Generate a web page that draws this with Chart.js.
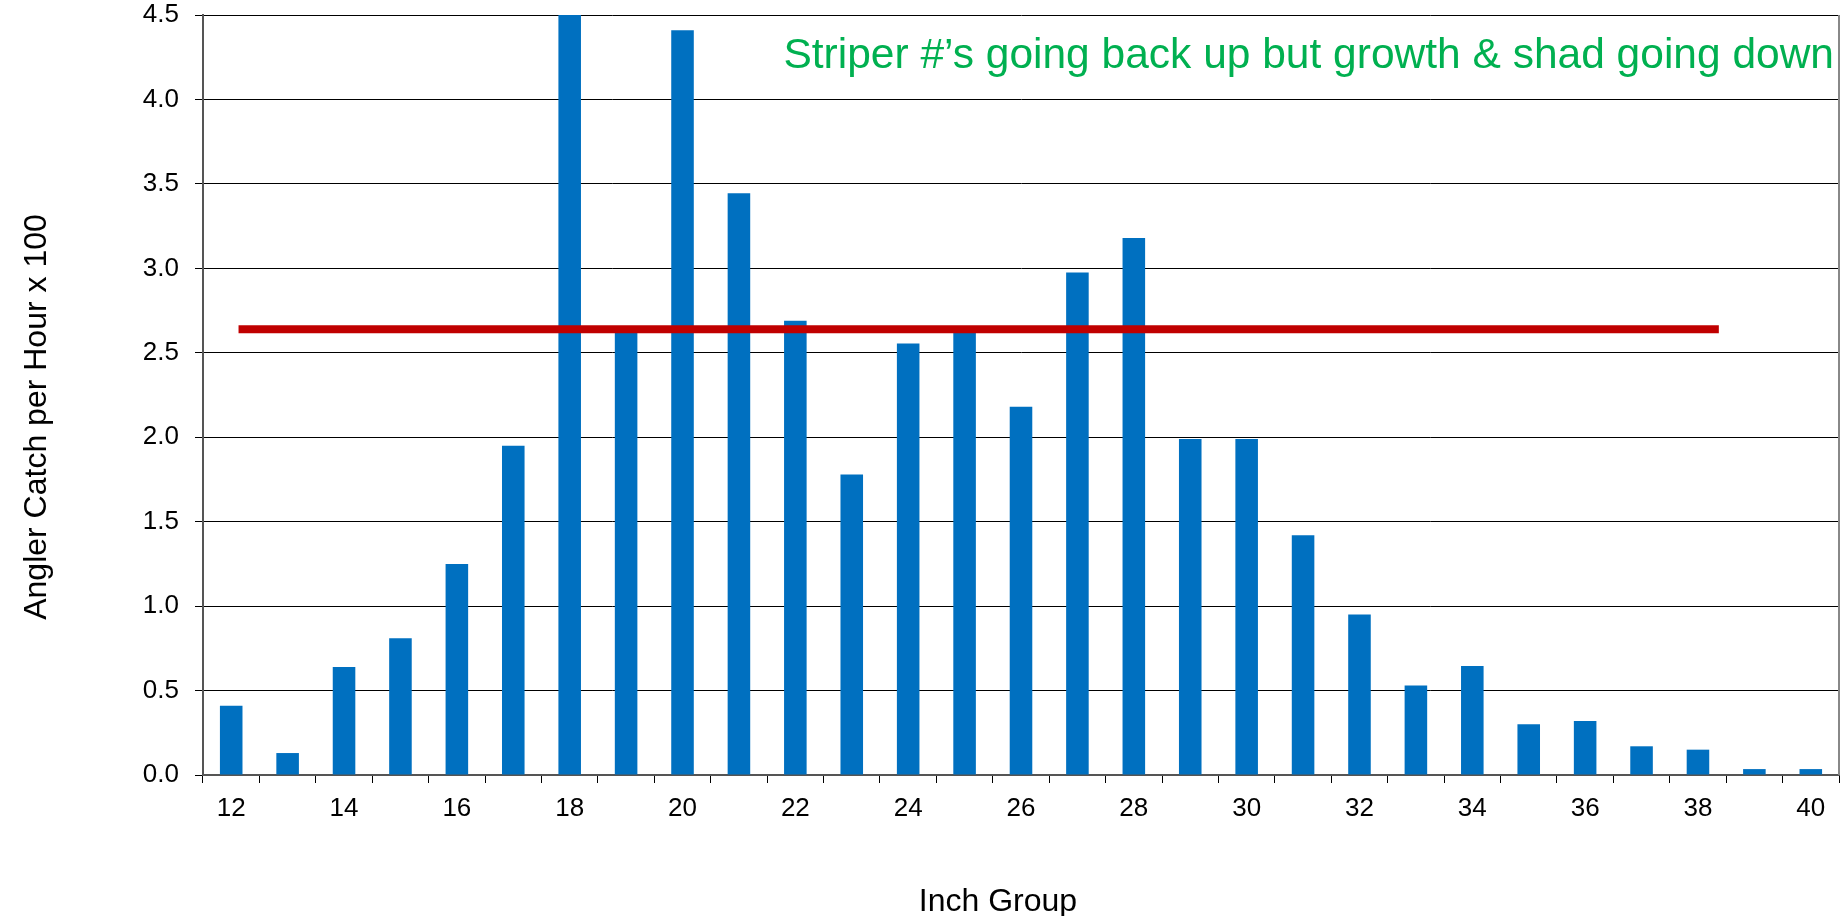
<!DOCTYPE html>
<html>
<head>
<meta charset="utf-8">
<script src="https://cdn.jsdelivr.net/npm/chart.js@4"></script>
<style>
  html, body { margin: 0; padding: 0; background: white; }
  #chart { display: block; }
</style>
</head>
<body>
<canvas id="chart" width="1847" height="916"></canvas>
<script>
// inch groups on the x axis
const inchGroups = ['12', '13', '14', '15', '16', '17', '18', '19', '20', '21',
  '22', '23', '24', '25', '26', '27', '28', '29', '30', '31',
  '32', '33', '34', '35', '36', '37', '38', '39', '40'];

// angler catch per hour x 100
const catchRates = [0.41, 0.13, 0.64, 0.81, 1.25, 1.95, 4.5, 2.62, 4.41, 3.445,
  2.69, 1.78, 2.555, 2.63, 2.18, 2.975, 3.18, 1.99, 1.99, 1.42,
  0.95, 0.53, 0.645, 0.30, 0.32, 0.17, 0.15, 0.035, 0.035];

// average line (x in category index units)
const averageLine = [
  { x: 0.13, y: 2.64 },
  { x: 26.37, y: 2.64 },
];

const yTicks = [0, 0.5, 1.0, 1.5, 2.0, 2.5, 3.0, 3.5, 4.0, 4.5];

const noteText = 'Striper #\u2019s going back up but growth & shad going down';
const xTitle = 'Inch Group';
const yTitle = 'Angler Catch per Hour x 100';

const FONT = "'Liberation Sans', Arial, sans-serif";
const barcolor = '#0070C0';
const linecolor = '#C00000';
const notecolor = '#00B050';

// titles and note are drawn by hand, the chart area box is fixed by afterFit
const textPlugin = {
  id: 'texts',
  afterDraw: (chart) => {
    const ctx = chart.ctx;
    const area = chart.chartArea;

    ctx.save();

    // right border of the plot
    ctx.strokeStyle = '#888888';
    ctx.lineWidth = 2;
    ctx.beginPath();
    ctx.moveTo(area.right, area.top);
    ctx.lineTo(area.right, area.bottom);
    ctx.stroke();

    // green note
    ctx.fillStyle = notecolor;
    ctx.font = `42.5px ${FONT}`;
    ctx.textAlign = 'right';
    ctx.textBaseline = 'alphabetic';
    ctx.fillText(noteText, area.right - 5, area.top + 53);

    // x title
    ctx.fillStyle = 'black';
    ctx.font = `32px ${FONT}`;
    ctx.textAlign = 'center';
    ctx.fillText(xTitle, 998, 911);

    // y title
    ctx.translate(46, 417);
    ctx.rotate(-Math.PI / 2);
    ctx.fillText(yTitle, 0, 0);

    ctx.restore();
  },
};

new Chart(document.getElementById('chart').getContext('2d'), {
  type: 'bar',
  data: {
    labels: inchGroups,
    datasets: [
      {
        type: 'line',
        label: 'average',
        data: averageLine,
        xAxisID: 'x2',
        yAxisID: 'y',
        borderColor: linecolor,
        borderWidth: 8,
        borderCapStyle: 'butt',
        pointRadius: 0,
        fill: false,
        order: 0,
      },
      {
        label: 'catch',
        data: catchRates,
        xAxisID: 'x',
        yAxisID: 'y',
        backgroundColor: barcolor,
        borderWidth: 0,
        grouped: false,
        barPercentage: 0.4,
        categoryPercentage: 1.0,
        order: 1,
      },
    ],
  },
  options: {
    responsive: false,
    animation: false,
    layout: {
      padding: { top: 15, right: 8, bottom: 0, left: 0 },
    },
    plugins: {
      legend: { display: false },
      title: { display: false },
      tooltip: { enabled: false },
    },
    scales: {
      x: {
        type: 'category',
        offset: true,
        afterFit: (scale) => { scale.height = 141; },
        grid: {
          offset: true,
          drawOnChartArea: false,
          drawTicks: true,
          tickLength: 8,
          color: '#000',
        },
        border: { color: '#555', width: 2 },
        ticks: {
          autoSkip: false,
          maxRotation: 0,
          padding: 10,
          color: 'black',
          font: { family: FONT, size: 26 },
          callback: function(value, index) {
            return index % 2 === 0 ? this.getLabelForValue(value) : '';
          },
        },
      },
      x2: {
        type: 'linear',
        display: false,
        offset: false,
        min: -0.5,
        max: inchGroups.length - 0.5,
      },
      y: {
        type: 'linear',
        min: yTicks[0],
        max: yTicks[yTicks.length - 1],
        afterFit: (scale) => {
          scale.width = 203;
          scale.paddingTop = 0;
          scale.paddingBottom = 0;
        },
        afterBuildTicks: (scale) => {
          scale.ticks = yTicks.map(v => ({ value: v }));
        },
        grid: {
          color: '#000',
          lineWidth: 1,
          drawTicks: true,
          tickLength: 8,
        },
        border: { color: '#555', width: 2 },
        ticks: {
          padding: 16,
          color: 'black',
          font: { family: FONT, size: 26 },
          callback: (v) => Number(v).toFixed(1),
        },
      },
    },
  },
  plugins: [textPlugin],
});
</script>
</body>
</html>
